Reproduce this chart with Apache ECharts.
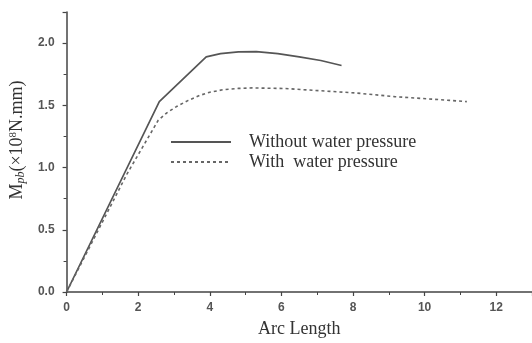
<!DOCTYPE html>
<html>
<head>
<meta charset="utf-8">
<script src="https://cdn.jsdelivr.net/npm/echarts@6/dist/echarts.min.js"></script>
<style>
html,body{margin:0;padding:0;background:#fff;}
#chart{width:532px;height:343px;}
</style>
</head>
<body>
<div id="chart"></div>
<script>
// Moment vs. arc length, with and without water pressure
const seriesNames = ['Without water pressure', 'With  water pressure'];
const arcWithout = [0, 2.59, 3.9, 4.3, 4.8, 5.3, 5.9, 6.5, 7.1, 7.68];
const momentWithout = [0, 1.53, 1.89, 1.915, 1.93, 1.932, 1.915, 1.89, 1.86, 1.82];
const arcWith = [0, 1.69, 2.56, 2.8, 3.07, 3.4, 3.72, 4.0, 4.36, 4.8, 5.19, 6.11, 6.94, 8.05, 9.16, 10.2, 11.18];
const momentWith = [0, 0.95, 1.38, 1.44, 1.49, 1.54, 1.58, 1.605, 1.625, 1.636, 1.64, 1.635, 1.62, 1.60, 1.57, 1.55, 1.53];
const xTicks = [0, 2, 4, 6, 8, 10, 12];
const yTicks = [0, 0.5, 1.0, 1.5, 2.0];

const pairs = (xs, ys) => xs.map((x, i) => [x, ys[i]]);

const axisCol = '#444';
const labelStyle = { color: '#555', fontFamily: 'Liberation Sans, Arial, sans-serif', fontWeight: 'bold', fontSize: 12 };
const serif = 'Liberation Serif, Times New Roman, serif';

const chart = echarts.init(document.getElementById('chart'));
chart.setOption({
  animation: false,
  backgroundColor: '#fff',
  grid: { left: 65, right: -4, top: 12, bottom: 47 },
  legend: {
    data: seriesNames,
    orient: 'vertical',
    left: 165,
    top: 128,
    itemWidth: 60,
    itemHeight: 10,
    itemGap: 2,
    itemStyle: { opacity: 0 },
    textStyle: { fontFamily: serif, fontSize: 18, color: '#333', padding: [0, 0, 0, 13] }
  },
  xAxis: {
    type: 'value',
    min: 0,
    max: 13,
    interval: 2,
    name: 'Arc Length',
    nameLocation: 'middle',
    nameGap: 28,
    nameTextStyle: { fontFamily: serif, fontSize: 18, color: '#333', padding: [0, 0, 0, 0] },
    axisLine: { lineStyle: { color: axisCol, width: 1.5 } },
    axisTick: { show: true, length: 4, lineStyle: { color: axisCol, width: 1.2 } },
    minorTick: { show: true, splitNumber: 2, length: 3, lineStyle: { color: axisCol, width: 1 } },
    axisLabel: Object.assign({ margin: 10, showMaxLabel: false,
      formatter: v => xTicks.indexOf(v) >= 0 ? String(v) : '' }, labelStyle),
    splitLine: { show: false }
  },
  yAxis: {
    type: 'value',
    min: 0,
    max: 2.25,
    interval: 0.5,
    name: '{a|M}{s|pb}{a|(×10}{p|8}{a|N.mm)}',
    nameLocation: 'middle',
    nameRotate: 90,
    nameGap: 37,
    nameTextStyle: {
      padding: [0, 0, 0, 24],
      rich: {
        a: { fontFamily: serif, fontSize: 18, color: '#333' },
        s: { fontFamily: serif, fontSize: 12, fontStyle: 'italic', color: '#333', verticalAlign: 'bottom', padding: [7, 0, 0, 0] },
        p: { fontFamily: serif, fontSize: 11, color: '#333', verticalAlign: 'top', padding: [0, 0, 7, 0] }
      }
    },
    axisLine: { show: true, lineStyle: { color: axisCol, width: 1.5 } },
    axisTick: { show: true, length: 4, lineStyle: { color: axisCol, width: 1.2 } },
    minorTick: { show: true, splitNumber: 2, length: 3, lineStyle: { color: axisCol, width: 1 } },
    axisLabel: Object.assign({ margin: 12, showMaxLabel: false,
      formatter: v => yTicks.indexOf(v) >= 0 ? v.toFixed(1) : '' }, labelStyle),
    splitLine: { show: false }
  },
  series: [
    {
      name: seriesNames[0],
      type: 'line',
      symbol: 'none',
      data: pairs(arcWithout, momentWithout),
      lineStyle: { color: '#555', width: 1.7, type: 'solid' },
      itemStyle: { color: '#555' }
    },
    {
      name: seriesNames[1],
      type: 'line',
      symbol: 'none',
      data: pairs(arcWith, momentWith),
      lineStyle: { color: '#666', width: 1.6, type: [3, 3] },
      itemStyle: { color: '#666' }
    }
  ]
});
</script>
</body>
</html>
